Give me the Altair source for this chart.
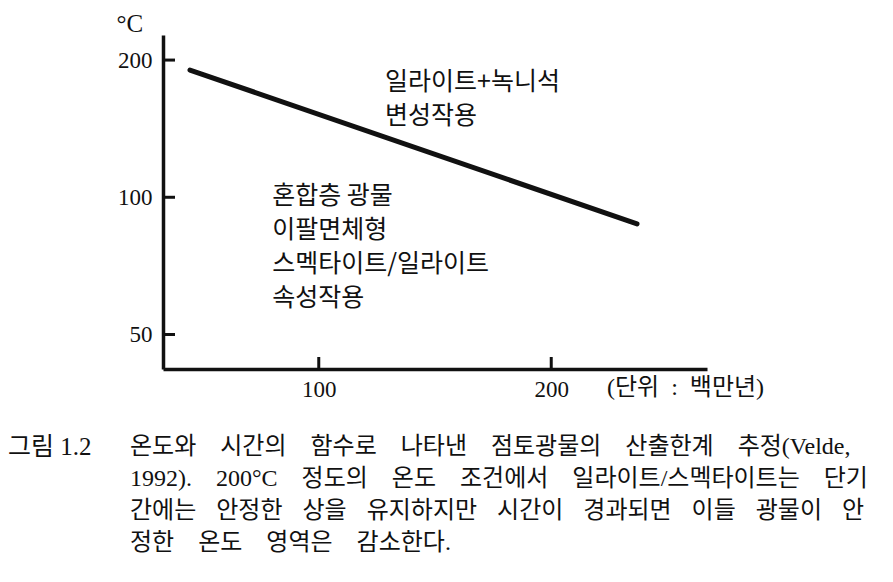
import altair as alt
import pandas as pd

# data
time_my = [44.6, 236.9]          # 백만년
temp_c = [190.2, 87.4]           # °C
y_tick_vals = [50, 100, 200]
x_tick_vals = [100, 200]

upper_label = ["일라이트+녹니석", "변성작용"]
upper_anchor = (128.5, 179.0)
lower_label = ["혼합층 광물", "이팔면체형", "스멕타이트/일라이트", "속성작용"]
lower_anchor = (80.0, 100.5)
unit_label = "(단위\u2002:\u2002백만년)"
unit_x = 224.0
fig_no = "그림 1.2"
caption_words = [
    ["온도와", "시간의", "함수로", "나타낸", "점토광물의", "산출한계", "추정(Velde,"],
    ["1992).", "200°C", "정도의", "온도", "조건에서", "일라이트/스멕타이트는", "단기"],
    ["간에는", "안정한", "상을", "유지하지만", "시간이", "경과되면", "이들", "광물이", "안"],
    ["정한", "온도", "영역은", "감소한다."],
]
caption_gaps = ["\u2003", "\u2003", "\u2002\u2005\u200a", "\u2003"]

W, H = 544, 334
FONT = "Liberation Serif, Noto Sans CJK KR"
KFONT = "Noto Sans CJK KR"
INK = "#111111"

xs = alt.Scale(domain=[33, 267], nice=False, zero=False)
ys = alt.Scale(type="log", domain=[42, 227], nice=False)

line_df = pd.DataFrame({"t": time_my, "T": temp_c})

line = alt.Chart(line_df).mark_line(color=INK, strokeWidth=5, strokeCap="round").encode(
    x=alt.X("t:Q", scale=xs,
            axis=alt.Axis(values=x_tick_vals, format="d", title=None, ticks=False,
                          labelPadding=9, grid=False, domainColor=INK, domainWidth=3.5,
                          labelFont=FONT, labelFontSize=23, labelColor=INK)),
    y=alt.Y("T:Q", scale=ys,
            axis=alt.Axis(values=y_tick_vals, format="d", ticks=False, labelPadding=11,
                          grid=False, domainColor=INK, domainWidth=3.5,
                          labelFont=FONT, labelFontSize=23, labelColor=INK,
                          title="°C", titleAngle=0, titleX=-47, titleY=-12,
                          titleAlign="left", titleBaseline="middle",
                          titleFont=FONT, titleFontSize=25, titleFontWeight="normal",
                          titleColor=INK)),
)

ytick = alt.Chart(pd.DataFrame({"v": y_tick_vals})).mark_rule(color=INK, strokeWidth=3).encode(
    y=alt.Y("v:Q", scale=ys), x=alt.value(0), x2=alt.value(12)
)
xtick = alt.Chart(pd.DataFrame({"v": x_tick_vals})).mark_rule(color=INK, strokeWidth=3).encode(
    x=alt.X("v:Q", scale=xs), y=alt.value(H), y2=alt.value(H - 12)
)

def block(lines, anchor, size=25):
    df = pd.DataFrame({"x": [anchor[0]], "y": [anchor[1]]})
    return alt.Chart(df).mark_text(
        align="left", baseline="middle", font=KFONT, fontSize=size,
        lineHeight=34, color=INK
    ).encode(x=alt.X("x:Q", scale=xs), y=alt.Y("y:Q", scale=ys), text=alt.value(lines))

upper = block(upper_label, upper_anchor)
lower = block(lower_label, lower_anchor)

unit = alt.Chart(pd.DataFrame({"x": [unit_x]})).mark_text(
    align="left", baseline="middle", font=FONT, fontSize=24, color=INK
).encode(x=alt.X("x:Q", scale=xs), y=alt.value(H + 19), text=alt.value(unit_label))

fig = alt.Chart(pd.DataFrame({"a": [0]})).mark_text(
    align="left", baseline="middle", font=FONT, fontSize=25, color=INK
).encode(x=alt.value(-155), y=alt.value(412), text=alt.value(fig_no))

caption = [g.join(ws) for g, ws in zip(caption_gaps, caption_words)]
cap = alt.Chart(pd.DataFrame({"a": [0]})).mark_text(
    align="left", baseline="middle", font=FONT, fontSize=24, lineHeight=32, color=INK
).encode(x=alt.value(-33), y=alt.value(412), text=alt.value(caption))

chart = alt.layer(line, ytick, xtick, upper, lower, unit, fig, cap).properties(
    width=W, height=H,
    background="white",
    autosize=alt.AutoSizeParams(type="none"),
    padding={"left": 155, "top": 27, "right": 178, "bottom": 200},
).configure_view(stroke=None)

chart.save("out.html", embed_options={"renderer": "svg", "actions": False})
